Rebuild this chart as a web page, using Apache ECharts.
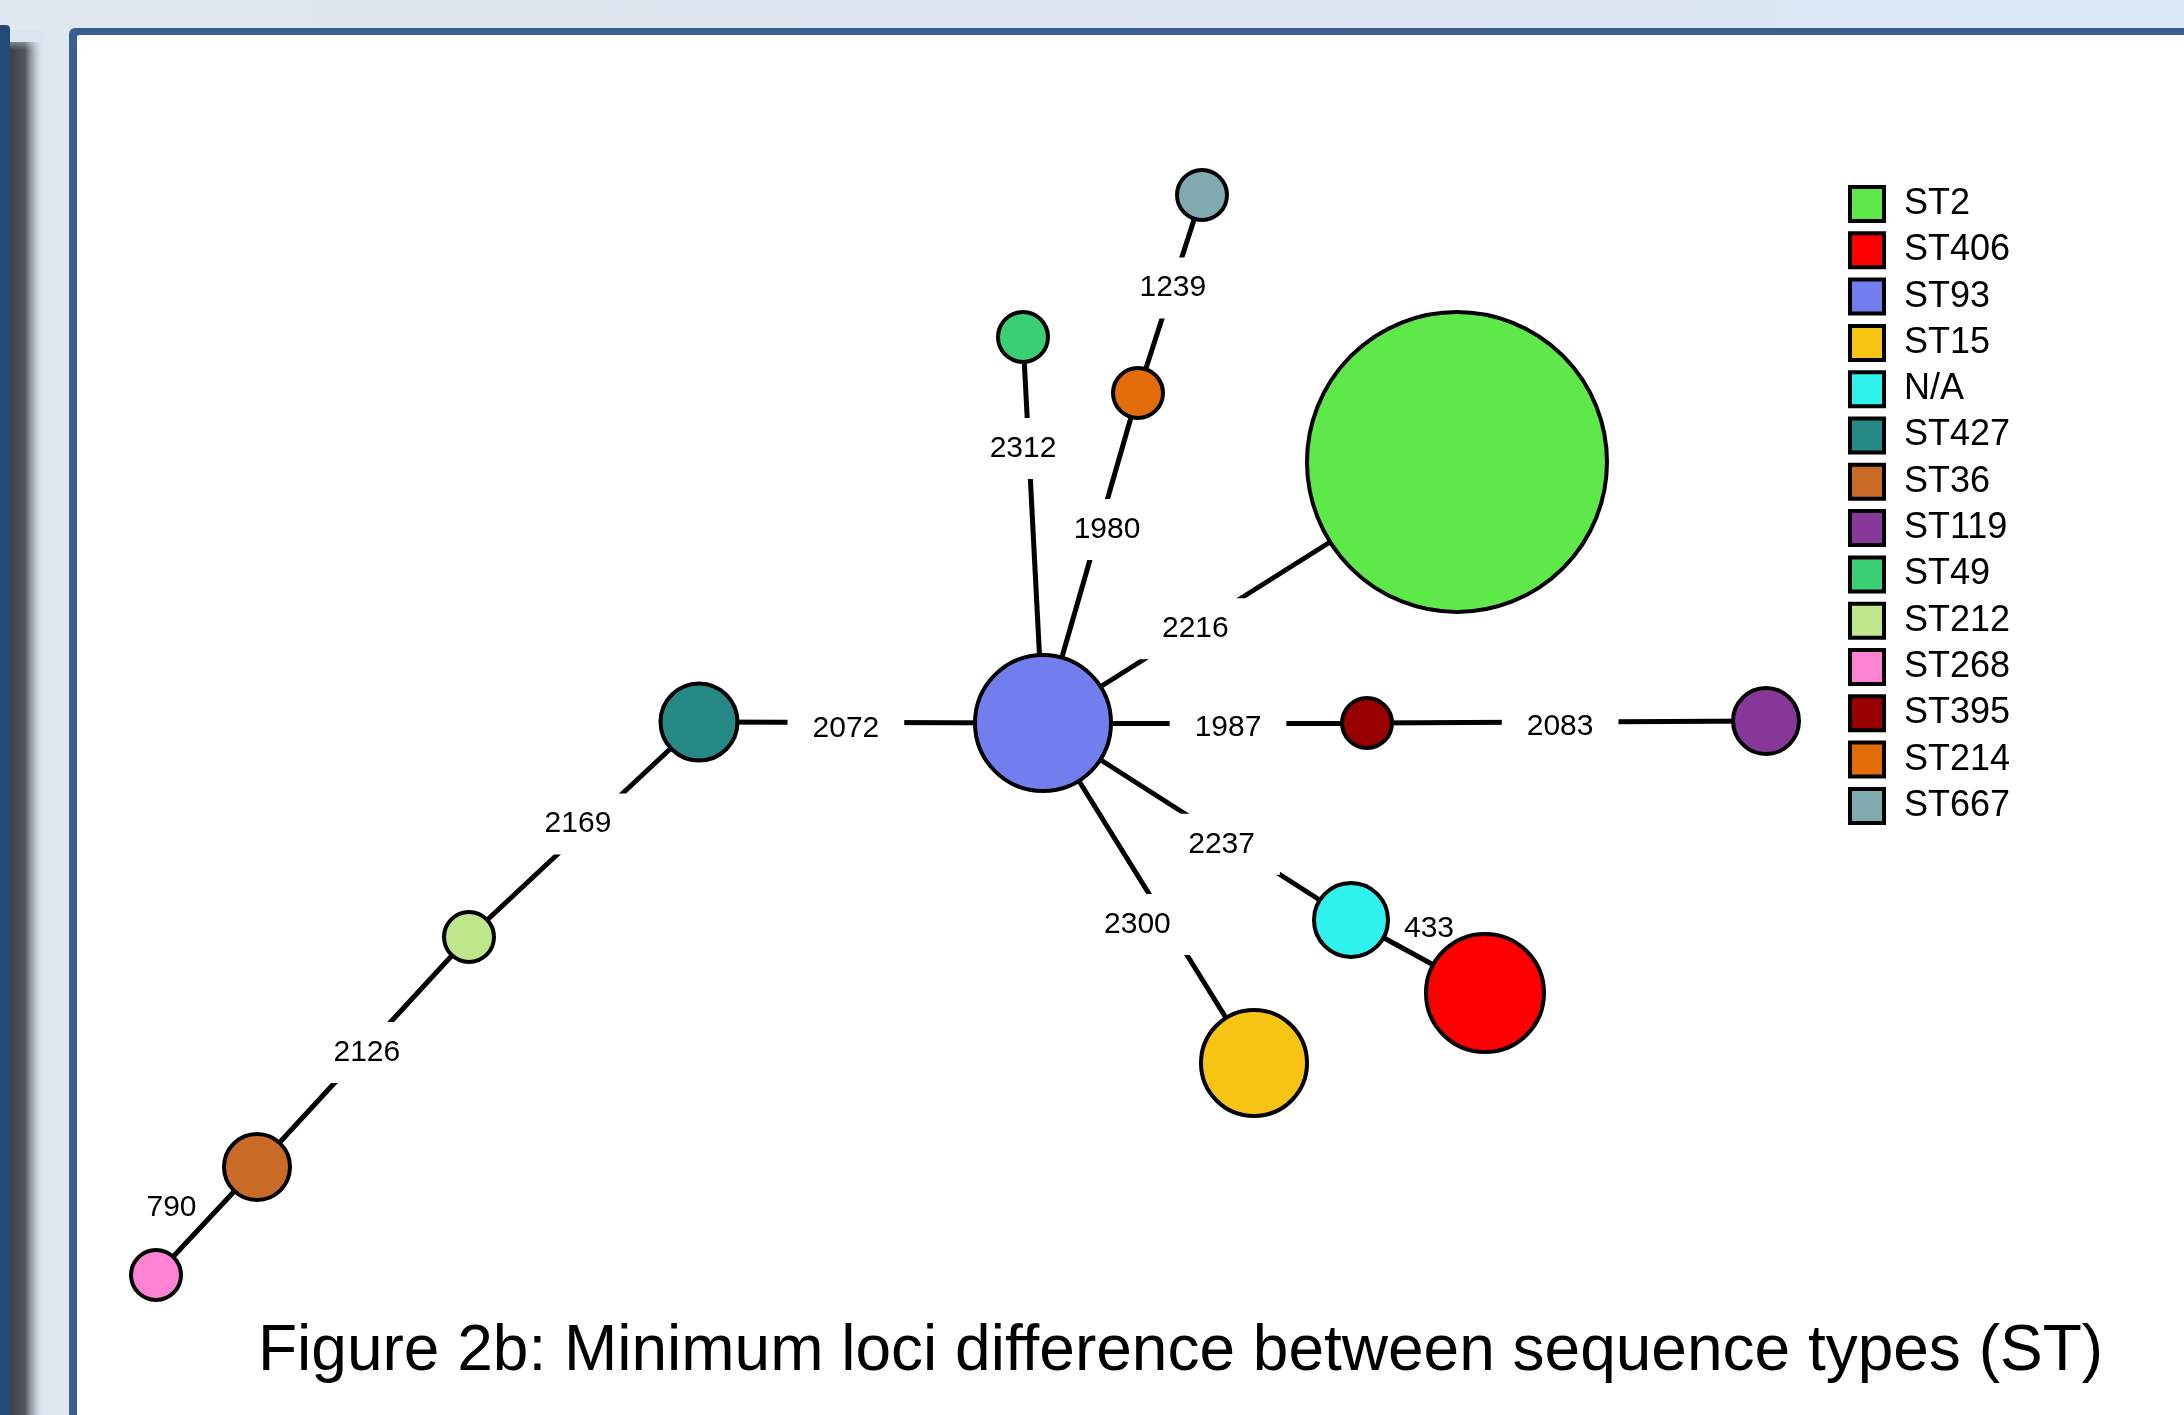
<!DOCTYPE html>
<html><head><meta charset="utf-8">
<script src="https://cdn.jsdelivr.net/npm/echarts@6/dist/echarts.min.js"></script>
<style>html,body{margin:0;padding:0;background:#fff}#chart{width:2184px;height:1415px}</style>
</head><body><div id="chart"></div>
<script>
// Sequence types (legend order) and their colours
const stNames  = ['ST2','ST406','ST93','ST15','N/A','ST427','ST36','ST119','ST49','ST212','ST268','ST395','ST214','ST667'];
const stColors = ['#5fe84a','#ff0000','#727eee','#f8c414','#30f2ec','#268985','#c96a26','#873799','#3acf72','#bee78c','#ff82d5','#990000','#e36c0a','#80aab0'];
// Node layout positions (layout units, ST93 at origin, y upward)
const nodeX = [41.4, 44.2, 0, 21.1, 30.8, -34.4, -78.6, 72.3, -2.0, -57.4, -88.7, 32.4, 9.5, 15.9];
const nodeY = [26.1, -27.0, 0, -34.0, -19.7, 0.1, -44.4, 0.2, 38.6, -21.4, -55.2, 0, 33.0, 52.8];
// Node size (relative number of isolates, as drawn)
const nodeSize = [300, 118, 136, 106, 74, 77, 66, 66, 50, 50, 50, 50, 50, 50];
// Minimum-spanning-tree edges and their loci differences
const edgeSource = ['ST93','ST93','ST93','ST214','ST93','ST427','ST212','ST36','ST93','ST395','ST93','N/A','ST93'];
const edgeTarget = ['ST2','ST49','ST214','ST667','ST427','ST212','ST36','ST268','ST395','ST119','N/A','ST406','ST15'];
const edgeLoci   = [2216, 2312, 1980, 1239, 2072, 2169, 2126, 790, 1987, 2083, 2237, 433, 2300];
// Where each edge label sits along its edge (fraction from source), label shift (px) and whether it masks the line
const labelT     = [0.38, 0.75, 0.632, 0.591, 0.573, 0.474, 0.463, 0.5, 0.571, 0.484, 0.57, 0.5, 0.528];
const labelShift = [[-5,5],[-5,15],[4,15],[-3,12],[0,6],[-12,0],[-4,9],[-35,-13],[0,5],[0,5],[3,9],[11,-28],[-17,22]];
const labelBoxed = [true,true,true,true,true,true,true,false,true,true,true,false,true];

const FONT = 'Liberation Sans, Arial, Helvetica, sans-serif';
const PX_PER_UNIT = 10;
const idx = n => stNames.indexOf(n);

const labelData = edgeLoci.map((v, i) => {
  const s = idx(edgeSource[i]), t = idx(edgeTarget[i]), f = labelT[i];
  const x = nodeX[s] + f * (nodeX[t] - nodeX[s]) + labelShift[i][0] / PX_PER_UNIT;
  const y = nodeY[s] + f * (nodeY[t] - nodeY[s]) - labelShift[i][1] / PX_PER_UNIT;
  const item = { value: [x, y, v] };
  if (!labelBoxed[i]) item.label = { backgroundColor: 'transparent', padding: 0 };
  return item;
});

const chart = echarts.init(document.getElementById('chart'), null, { renderer: 'canvas' });
chart.setOption({
  animation: false,
  backgroundColor: '#ffffff',
  graphic: [
    { type: 'rect', silent: true, z: -10, shape: { x: 0, y: 0, width: 2184, height: 1415 },
      style: { fill: new echarts.graphic.LinearGradient(0, 0, 1, 0, [
        { offset: 0, color: '#e0e7f1' }, { offset: 0.5, color: '#dde4ef' }, { offset: 1, color: '#dbe9f7' }]) } },
    { type: 'rect', silent: true, z: -9, shape: { x: -8, y: 25, width: 18, height: 1420, r: 4 },
      style: { fill: '#214a7b' } },
    { type: 'rect', silent: true, z: -9, shape: { x: 10, y: 42, width: 34, height: 1400 },
      style: { fill: new echarts.graphic.LinearGradient(0, 0, 1, 0, [
        { offset: 0, color: 'rgba(60,63,68,1)' }, { offset: 0.45, color: 'rgba(75,78,84,0.95)' },
        { offset: 0.8, color: 'rgba(170,180,195,0.5)' }, { offset: 1, color: 'rgba(220,230,242,0)' }]) } },
    { type: 'rect', silent: true, z: -9, shape: { x: 10, y: 30, width: 34, height: 20 },
      style: { fill: new echarts.graphic.LinearGradient(0, 0, 0, 1, [
        { offset: 0, color: 'rgba(220,228,240,1)' }, { offset: 1, color: 'rgba(220,228,240,0)' }]) } },
    { type: 'rect', silent: true, z: -8, shape: { x: 69, y: 28, width: 2200, height: 1500, r: 6 },
      style: { fill: '#3a5e8d' } },
    { type: 'rect', silent: true, z: -7, shape: { x: 77, y: 35, width: 2200, height: 1500, r: 2 },
      style: { fill: '#ffffff' } }
  ],
  title: {
    text: 'Figure 2b: Minimum loci difference between sequence types (ST)',
    left: 258, top: 1320, padding: 0,
    textStyle: { fontSize: 64, fontWeight: 'normal', color: '#000', fontFamily: FONT }
  },
  legend: {
    orient: 'vertical', left: 1843, top: 180, itemWidth: 34, itemHeight: 34, itemGap: 8.3,
    icon: 'rect', selectedMode: false, data: stNames,
    itemStyle: { borderColor: '#000', borderWidth: 4 },
    textStyle: { fontSize: 36, color: '#000', fontFamily: FONT, padding: [0, 0, 0, 15] }
  },
  grid: { left: 0, right: 0, top: 0, bottom: 0 },
  xAxis: { type: 'value', min: -104.3, max: 114.1, show: false },
  yAxis: { type: 'value', min: -69.2, max: 72.3, show: false },
  series: [
    {
      type: 'graph', coordinateSystem: 'cartesian2d', layout: 'none', z: 2, silent: true,
      categories: stNames.map((n, i) => ({ name: n, itemStyle: { color: stColors[i] } })),
      data: stNames.map((n, i) => ({ name: n, value: [nodeX[i], nodeY[i]], category: i, symbolSize: nodeSize[i] })),
      links: edgeLoci.map((v, i) => ({ source: edgeSource[i], target: edgeTarget[i], value: v })),
      itemStyle: { borderColor: '#000', borderWidth: 4, opacity: 1 },
      lineStyle: { color: '#000', width: 5, opacity: 1, curveness: 0 },
      label: { show: false }, edgeLabel: { show: false },
      emphasis: { disabled: true }
    },
    {
      type: 'scatter', coordinateSystem: 'cartesian2d', z: 5, silent: true,
      symbolSize: 0, itemStyle: { color: 'transparent', opacity: 1 },
      data: labelData,
      label: {
        show: true, position: 'inside', formatter: p => String(p.value[2]),
        fontSize: 30, lineHeight: 30, color: '#000', opacity: 1, fontFamily: FONT,
        backgroundColor: '#ffffff', padding: [27, 25, 4, 25]
      },
      emphasis: { disabled: true }
    }
  ]
});
</script></body></html>
